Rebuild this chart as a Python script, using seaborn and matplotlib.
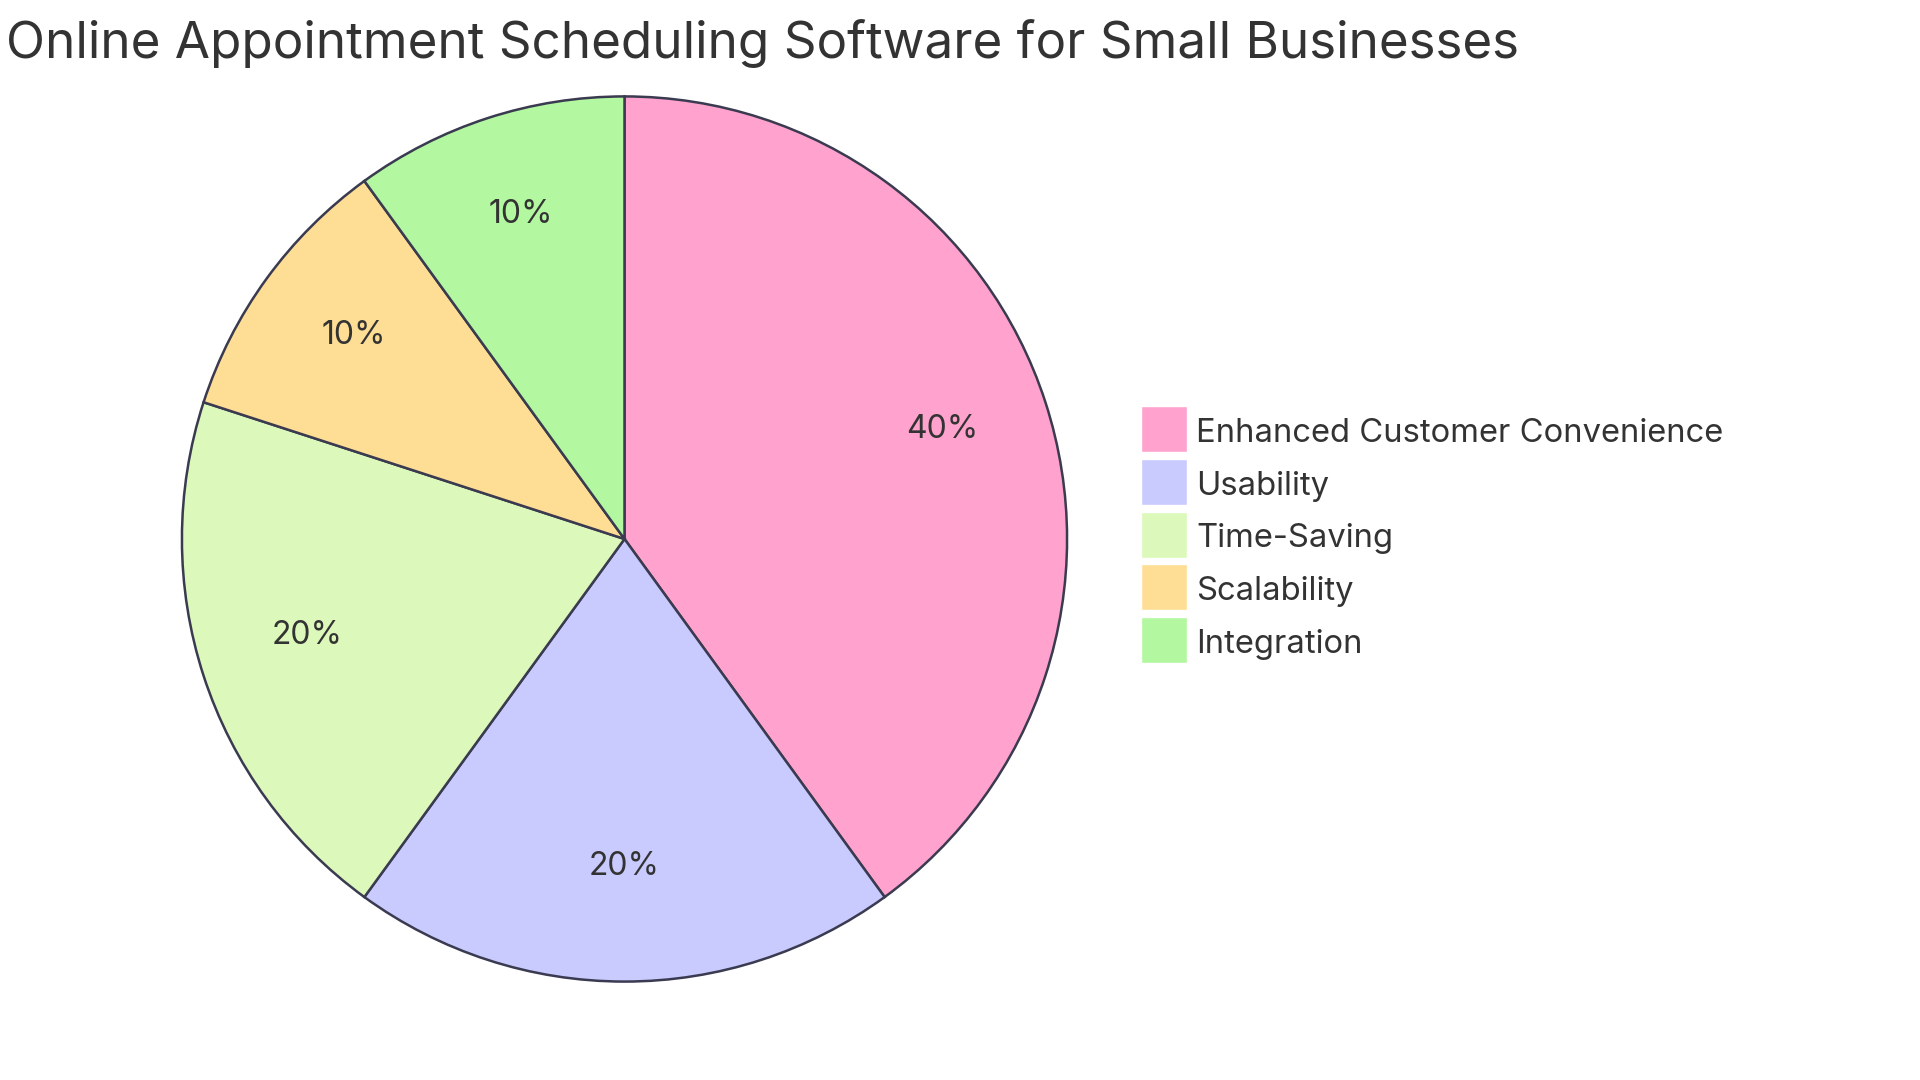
import matplotlib
matplotlib.use("Agg")
import matplotlib.pyplot as plt
import matplotlib.patches as mpatches
from matplotlib.legend_handler import HandlerPatch
import seaborn as sns

categories = ["Enhanced Customer Convenience", "Usability", "Time-Saving", "Scalability", "Integration"]
values = [40, 20, 20, 10, 10]
colors = ["#FFA3CE", "#C9CBFE", "#DCF9BB", "#FEDE95", "#B3F8A1"]
title = "Online Appointment Scheduling Software for Small Businesses"

sns.set_theme(style="white")
plt.rcParams["font.family"] = ["Inter", "DejaVu Sans"]
text_color = "#333333"


class SquareHandler(HandlerPatch):
    # square swatch, sizes in points, relative to text baseline
    def create_artists(self, legend, orig_handle, xdescent, ydescent, width, height, fontsize, trans):
        side = 33.1
        p = mpatches.Rectangle((0, -7.4), side, side,
                               facecolor=orig_handle.get_facecolor(),
                               edgecolor="white", linewidth=1, transform=trans)
        return [p]


W, H = 1920, 1080
fig = plt.figure(figsize=(W / 100, H / 100), dpi=100)
cx, cy, r = 624.5, 539, 447
ax = fig.add_axes([(cx - r) / W, (H - cy - r) / H, 2 * r / W, 2 * r / H])

wedges, texts, autotexts = ax.pie(
    values, colors=colors, startangle=90, counterclock=False,
    autopct=lambda p: f"{p:.0f}%", pctdistance=0.755,
    wedgeprops=dict(edgecolor="#3A3A50", linewidth=1.8),
    textprops=dict(color=text_color, fontsize=23),
)
for t in autotexts:
    x, y = t.get_position()
    t.set_position((x, y + 0.015))
ax.set_xlim(-1.01, 1.01)
ax.set_ylim(-1.01, 1.01)
ax.axis("off")

fig.text(6 / W, 1 - 44 / H, title, fontsize=36.8, color=text_color, va="center", ha="left")

handles = [mpatches.Patch(facecolor=c) for c in colors]
fig.legend(handles, categories, loc="upper left", bbox_to_anchor=(1141 / W, 1 - 414 / H),
           frameon=False, fontsize=23.6, handlelength=1.40, handleheight=1.19,
           labelspacing=0.55, handletextpad=0.28, borderpad=0, borderaxespad=0,
           labelcolor=text_color, handler_map={mpatches.Patch: SquareHandler()})

fig.savefig("out.png", dpi=100, facecolor="white")
